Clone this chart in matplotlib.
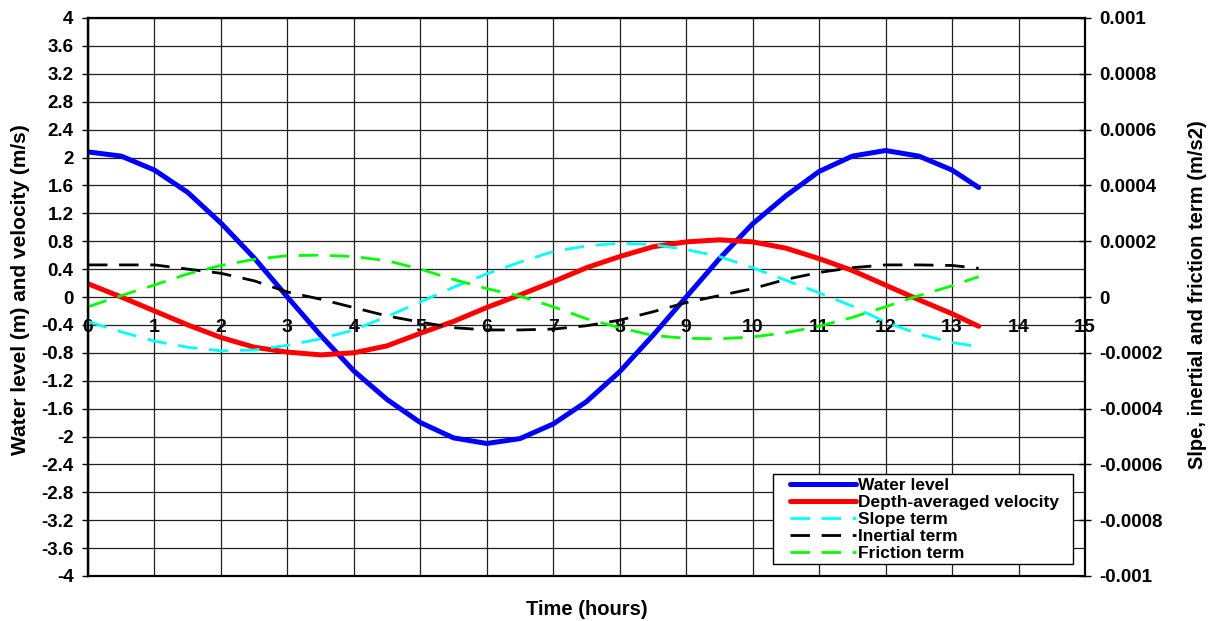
import numpy as np
import matplotlib
matplotlib.use("Agg")
import matplotlib.pyplot as plt
from matplotlib.ticker import FuncFormatter, MultipleLocator
from matplotlib.patches import Rectangle

plt.rcParams['font.family'] = ['Liberation Sans', 'DejaVu Sans']
plt.rcParams['font.weight'] = 'bold'

# Time (hours)
time_h = [0, 0.5, 1.0, 1.5, 2.0, 2.5, 3.0, 3.5, 4.0, 4.5, 5.0, 5.5, 6.0, 6.5,
          7.0, 7.5, 8.0, 8.5, 9.0, 9.5, 10.0, 10.5, 11.0, 11.5, 12.0, 12.5, 13.0, 13.4]

# Left axis series
water_level = [2.08, 2.02, 1.82, 1.50, 1.06, 0.56, 0.0, -0.55, -1.06, -1.47, -1.80, -2.02,
               -2.10, -2.03, -1.82, -1.50, -1.07, -0.55, 0.0, 0.55, 1.05, 1.45, 1.80, 2.02,
               2.10, 2.02, 1.82, 1.57]
velocity = [0.19, 0.0, -0.20, -0.40, -0.58, -0.72, -0.79, -0.83, -0.80, -0.70, -0.52, -0.35,
            -0.15, 0.03, 0.22, 0.42, 0.58, 0.72, 0.79, 0.82, 0.79, 0.70, 0.55, 0.38,
            0.17, -0.04, -0.24, -0.42]

# Right axis series (m/s2)
slope_term = [-0.88e-4, -1.25e-4, -1.58e-4, -1.80e-4, -1.93e-4, -1.90e-4, -1.73e-4, -1.50e-4,
              -1.18e-4, -0.70e-4, -0.18e-4, 0.35e-4, 0.83e-4, 1.25e-4, 1.63e-4, 1.83e-4,
              1.93e-4, 1.88e-4, 1.70e-4, 1.45e-4, 1.05e-4, 0.60e-4, 0.15e-4, -0.33e-4,
              -0.90e-4, -1.33e-4, -1.63e-4, -1.78e-4]
inertial_term = [1.15e-4, 1.15e-4, 1.15e-4, 1.00e-4, 0.85e-4, 0.58e-4, 0.18e-4, -0.08e-4,
                 -0.38e-4, -0.68e-4, -0.90e-4, -1.10e-4, -1.18e-4, -1.18e-4, -1.15e-4, -1.03e-4,
                 -0.83e-4, -0.53e-4, -0.20e-4, 0.05e-4, 0.30e-4, 0.63e-4, 0.88e-4, 1.05e-4,
                 1.15e-4, 1.15e-4, 1.13e-4, 1.03e-4]
friction_term = [-0.35e-4, 0.05e-4, 0.43e-4, 0.83e-4, 1.13e-4, 1.35e-4, 1.48e-4, 1.50e-4,
                 1.45e-4, 1.30e-4, 1.00e-4, 0.63e-4, 0.30e-4, 0.03e-4, -0.35e-4, -0.78e-4,
                 -1.10e-4, -1.38e-4, -1.48e-4, -1.50e-4, -1.43e-4, -1.28e-4, -1.05e-4, -0.73e-4,
                 -0.35e-4, 0.05e-4, 0.40e-4, 0.73e-4]

x_ticks = list(range(0, 16))

W, H = 1213, 621
fig = plt.figure(figsize=(W / 100, H / 100), dpi=100)
ax = fig.add_axes([88 / W, 45 / H, (1085 - 88) / W, (576 - 18) / H])
ax2 = ax.twinx()

ax.set_xlim(0, 15)
ax.set_ylim(-4, 4)
ax2.set_ylim(-0.001, 0.001)

ax.yaxis.set_major_locator(MultipleLocator(0.4))
ax.set_xticks(x_ticks)
ax.yaxis.set_major_formatter(FuncFormatter(lambda v, p: f"{round(v, 2):g}"))
ax2.yaxis.set_major_locator(MultipleLocator(0.0002))
ax2.yaxis.set_major_formatter(FuncFormatter(lambda v, p: f"{round(v, 5):g}"))

ax.grid(True, color='#202020', linewidth=0.9)
ax.set_axisbelow(True)

# x-axis crossing at y=0
ax.spines['bottom'].set_position(('data', 0))
ax.spines['bottom'].set_visible(False)
ax.spines['top'].set_visible(False)
ax.spines['right'].set_visible(False)
ax.spines['left'].set_linewidth(1.6)
for s in ax2.spines.values():
    s.set_linewidth(1.6)

ax.tick_params(axis='x', length=0, pad=16, labelsize=14)
ax.tick_params(axis='y', direction='out', length=4.5, width=1, pad=6, labelsize=13.5)
ax2.tick_params(axis='y', direction='inout', length=9, width=1, pad=6, labelsize=13.5)

lw_main = 3.6
lw_dash = 2.0
dash = (7, 4.2)

h1, = ax.plot(time_h, water_level, color='#0000FF', lw=lw_main, label='Water level',
              solid_joinstyle='round', solid_capstyle='round')
h2, = ax.plot(time_h, velocity, color='#FF0000', lw=lw_main, label='Depth-averaged velocity',
              solid_joinstyle='round', solid_capstyle='round')
h3, = ax2.plot(time_h, slope_term, color='#00FFFF', lw=lw_dash, dashes=dash, label='Slope term')
h4, = ax2.plot(time_h, inertial_term, color='#000000', lw=lw_dash, dashes=dash, label='Inertial term')
h5, = ax2.plot(time_h, friction_term, color='#00FF00', lw=lw_dash, dashes=dash, label='Friction term')

ax.set_xlabel('Time (hours)', fontsize=14.5, fontweight='bold')
ax.xaxis.set_label_coords(0.5, -0.043)
ax.set_ylabel('Water level (m) and velocity (m/s)', fontsize=15, fontweight='bold')
ax.yaxis.set_label_coords(-0.058, 0.5125)
ax2.set_ylabel('Slpe, inertial and friction term (m/s2)', fontsize=14.5, fontweight='bold')
ax2.yaxis.set_label_coords(1.103, 0.505)

# Legend box (frame drawn as a figure-level rectangle, content placed inside)
box = Rectangle((773 / W, (H - 564) / H), 300 / W, 90 / H, transform=fig.transFigure,
                facecolor='white', edgecolor='black', linewidth=1.0, zorder=5)
ax2.add_artist(box)
box.set_clip_on(False)

leg = ax2.legend(handles=[h1, h2, h3, h4, h5], loc='upper left',
                 bbox_to_anchor=(790 / W, (H - 478) / H), bbox_transform=fig.transFigure,
                 fontsize=12.5, handlelength=3.8, handletextpad=0.12, labelspacing=0.1,
                 borderpad=0.0, borderaxespad=0, frameon=False)
leg.set_zorder(6)

fig.savefig('out.png', dpi=100)
